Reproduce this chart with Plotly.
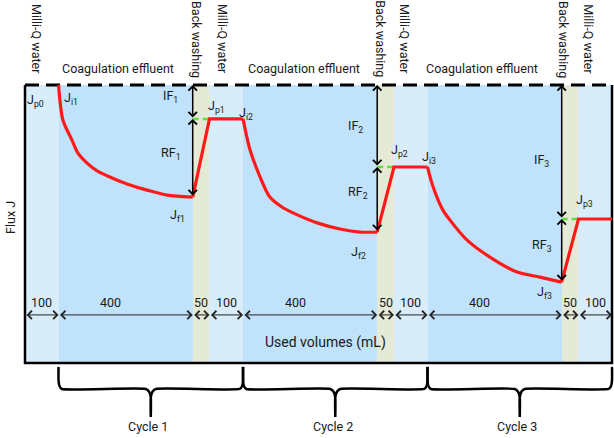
import plotly.graph_objects as go

# ---------------- data ----------------
segment_labels = ["100", "400", "50", "100", "400", "50", "100", "400", "50", "100"]
segment_volumes = [100, 400, 50, 100, 400, 50, 100, 400, 50, 100]
segment_kinds = ["milliq", "coag", "back", "milliq", "coag", "back",
                 "milliq", "coag", "back", "milliq"]

# normalized flux levels
J_p = [1.0, 0.878, 0.705, 0.518]      # Jp0..Jp3
J_f = [0.597, 0.471, 0.291]           # Jf1..Jf3

# fouling curves (used volume mL, normalized flux)
cycle1_v = [100, 113, 140, 158, 185, 215, 253, 304, 364, 423, 500]
cycle1_J = [1.0, 0.874, 0.802, 0.755, 0.719, 0.691, 0.669, 0.644, 0.622, 0.604, 0.597]
cycle2_v = [650, 671, 701, 730, 766, 799, 871, 939, 999, 1050]
cycle2_J = [0.878, 0.766, 0.669, 0.597, 0.561, 0.540, 0.504, 0.482, 0.471, 0.471]
cycle3_v = [1200, 1213, 1228, 1246, 1267, 1318, 1386, 1467, 1535, 1600]
cycle3_J = [0.705, 0.647, 0.597, 0.550, 0.514, 0.442, 0.381, 0.327, 0.309, 0.291]

cycle_labels = ["Cycle 1", "Cycle 2", "Cycle 3"]
phase_top_labels = ["Milli-Q water", "Coagulation effluent", "Back washing"]

# ---------------- geometry helpers ----------------
bounds = [0]
for v in segment_volumes:
    bounds.append(bounds[-1] + v)
total = bounds[-1]
centers = [(bounds[i] + bounds[i + 1]) / 2 for i in range(len(segment_volumes))]

band_colors = {"milliq": "rgb(217,236,250)", "coag": "rgb(192,226,250)",
               "back": "rgb(229,234,214)"}

FONT = "Roboto"
TXT = "#1a1a1a"
FS = 12.5

fig = go.Figure()

# background bands
fig.add_trace(go.Bar(
    x=centers, y=[J_p[0]] * len(centers), base=0,
    width=segment_volumes,
    marker=dict(color=[band_colors[k] for k in segment_kinds], line=dict(width=0)),
    hoverinfo="skip", showlegend=False))

# box (left, bottom, right solid; top dashed)
fig.add_trace(go.Scatter(x=[0, 0, total, total], y=[J_p[0], 0, 0, J_p[0]],
                         mode="lines", line=dict(color="black", width=2.5),
                         hoverinfo="skip", showlegend=False))
fig.add_trace(go.Scatter(x=[0, total], y=[J_p[0], J_p[0]], mode="lines",
                         line=dict(color="black", width=3, dash="14px,7px"),
                         hoverinfo="skip", showlegend=False))

# green dashed lines (Jp levels, from backwash start to plateau)
for i in range(3):
    xs = bounds[2 + 3 * i]
    xe = bounds[3 + 3 * i]
    fig.add_trace(go.Scatter(x=[xs, xe], y=[J_p[i + 1], J_p[i + 1]], mode="lines",
                             line=dict(color="#5fe03a", width=2.5, dash="6px,4px"),
                             hoverinfo="skip", showlegend=False))

# red flux curves
RED = "#ff1a1a"
for vv, jj in [(cycle1_v, cycle1_J), (cycle2_v, cycle2_J), (cycle3_v, cycle3_J)]:
    fig.add_trace(go.Scatter(x=vv, y=jj, mode="lines",
                             line=dict(color=RED, width=3.2, shape="spline", smoothing=0.8),
                             hoverinfo="skip", showlegend=False))
# backwash rise and plateau
for i in range(3):
    xs = bounds[2 + 3 * i]
    xm = bounds[3 + 3 * i]
    xe = bounds[4 + 3 * i]
    fig.add_trace(go.Scatter(x=[xs, xm, xe], y=[J_f[i], J_p[i + 1], J_p[i + 1]],
                             mode="lines", line=dict(color=RED, width=3.2),
                             hoverinfo="skip", showlegend=False))

annotations = []


def arrow(x0, y0, x1, y1, width, size, color="black"):
    annotations.append(dict(x=x1, y=y1, ax=x0, ay=y0, xref="x", yref="y",
                            axref="x", ayref="y", text="", showarrow=True,
                            arrowhead=4, startarrowhead=4, arrowside="end+start",
                            arrowwidth=width, arrowsize=size, startarrowsize=size,
                            arrowcolor=color, standoff=0, startstandoff=0))


def label(x, y, text, size=FS, angle=0, xanchor="center", yanchor="middle"):
    annotations.append(dict(x=x, y=y, xref="x", yref="y", text=text, showarrow=False,
                            textangle=angle, xanchor=xanchor, yanchor=yanchor,
                            font=dict(family=FONT, size=size, color=TXT)))


# IF / RF arrows
for i in range(3):
    xa = bounds[2 + 3 * i]
    arrow(xa, J_p[i + 1], xa, J_p[0], 1.5, 1.1)
    arrow(xa, J_f[i], xa, J_p[i + 1], 1.5, 1.1)

# dimension arrows at bottom
dim_y = 0.173
for i in range(len(segment_volumes)):
    arrow(bounds[i], dim_y, bounds[i + 1], dim_y, 1, 1.6, "#222222")
    off = -45 if segment_labels[i] == "400" else 0
    label(centers[i] + off, 0.216, segment_labels[i])

# J labels
label(30, 0.946, "J<sub>p0</sub>")
label(137, 0.953, "J<sub>i1</sub>")
label(435, 0.957, "IF<sub>1</sub>")
label(570, 0.921, "J<sub>p1</sub>")
label(660, 0.896, "J<sub>i2</sub>")
label(435, 0.755, "RF<sub>1</sub>")
label(456, 0.532, "J<sub>f1</sub>")
label(984, 0.849, "IF<sub>2</sub>")
label(1115, 0.763, "J<sub>p2</sub>")
label(1205, 0.741, "J<sub>i3</sub>")
label(993, 0.612, "RF<sub>2</sub>")
label(993, 0.399, "J<sub>f2</sub>")
label(1541, 0.730, "IF<sub>3</sub>")
label(1667, 0.586, "J<sub>p3</sub>")
label(1541, 0.421, "RF<sub>3</sub>")
label(1550, 0.255, "J<sub>f3</sub>")

# axis titles
label(-45, 0.525, "Flux J", angle=-90)
label(897, 0.072, "Used volumes (mL)", size=14)

# top phase labels
coag_label_x = [277, 832, 1361]
for xx in coag_label_x:
    label(xx, 1.061, phase_top_labels[1])
rot_positions = [(36, 0), (513, 2), (591, 0), (1061, 2), (1133, 0), (1607, 2), (1681, 0)]
for xx, k in rot_positions:
    label(xx, 1.165, phase_top_labels[k], angle=90)

# braces under the box
y_top, y_bar, y_tip = -0.014, -0.0935, -0.194
for c in range(3):
    x0 = bounds[1 + 3 * c]
    x1 = bounds[4 + 3 * c]
    xm = (x0 + x1) / 2
    bx = [x0, x0, x0 + 3, x0 + 10, xm - 15, xm - 5, xm, xm,
          xm, xm + 5, xm + 15, x1 - 10, x1 - 3, x1, x1]
    by = [y_top, y_bar + 0.03, y_bar + 0.01, y_bar, y_bar, y_bar - 0.01, y_bar - 0.03, y_tip,
          y_bar - 0.03, y_bar - 0.01, y_bar, y_bar, y_bar + 0.01, y_bar + 0.03, y_top]
    fig.add_trace(go.Scatter(x=bx, y=by, mode="lines",
                             line=dict(color="black", width=2.5, shape="spline", smoothing=0.5),
                             hoverinfo="skip", showlegend=False))
    label(xm - 8, -0.230, cycle_labels[c])

fig.update_layout(annotations=annotations)

fig.update_layout(
    width=614, height=438, autosize=False,
    margin=dict(l=0, r=0, t=0, b=0),
    paper_bgcolor="white", plot_bgcolor="white",
    xaxis=dict(range=[-74.53, 1755.96], visible=False, fixedrange=True),
    yaxis=dict(range=[-0.26978, 1.30576], visible=False, fixedrange=True),
    showlegend=False, bargap=0,
)

fig.write_html("out.html", config={"displayModeBar": False},
               post_script="document.body.style.margin='0';document.body.style.overflow='hidden';")
